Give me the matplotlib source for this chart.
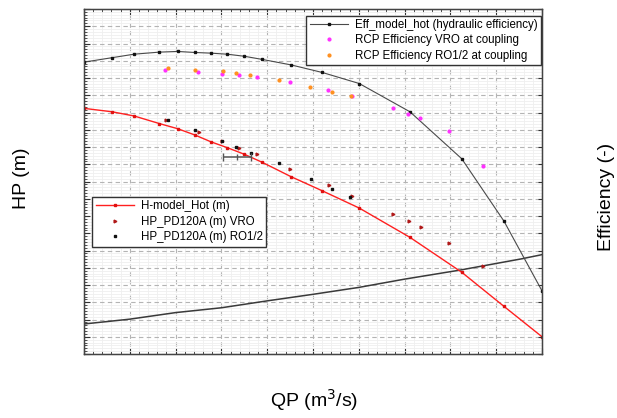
import numpy as np
import matplotlib
matplotlib.use('Agg')
import matplotlib.pyplot as plt
from matplotlib.ticker import MultipleLocator, NullFormatter

plt.rcParams['font.family'] = ['Liberation Sans', 'DejaVu Sans']

# ---------- data (arbitrary units, labels were hidden) ----------
# model curves share the same QP points
qp_model = [0.0, 0.618, 1.092, 1.644, 2.046, 2.417, 2.773, 3.129, 3.5, 3.886,
            4.52, 5.203, 6.01, 7.118, 8.247, 9.17, 10.0]
eff_model = [0.846, 0.859, 0.869, 0.875, 0.877, 0.874, 0.872, 0.869, 0.863, 0.854,
             0.838, 0.816, 0.784, 0.702, 0.566, 0.385, 0.183]
hp_model = [71.2, 70.2, 69.0, 66.8, 65.3, 63.5, 61.5, 59.8, 57.9, 55.6,
            51.4, 47.3, 42.3, 33.8, 23.7, 13.8, 5.0]

# efficiency measurements at coupling
qp_eff_vro = [1.775, 2.496, 3.007, 3.391, 3.771, 4.498, 5.338, 5.852, 6.74, 7.081,
              7.336, 7.969, 8.705]
eff_vro = [0.823, 0.818, 0.812, 0.809, 0.802, 0.788, 0.764, 0.747, 0.714, 0.697,
           0.685, 0.646, 0.546]
qp_eff_ro = [1.841, 2.417, 3.028, 3.319, 3.631, 4.258, 4.945, 5.415, 5.819]
eff_ro = [0.829, 0.824, 0.819, 0.815, 0.808, 0.795, 0.773, 0.759, 0.747]

# HP measurements
qp_hp_vro = [1.784, 2.511, 3.013, 3.391, 3.777, 4.487, 5.349, 5.858, 6.74, 7.096,
             7.352, 7.976, 8.705]
hp_vro = [67.7, 64.3, 61.7, 59.6, 57.9, 53.7, 49.0, 45.9, 40.6, 38.5, 36.7, 32.3, 25.6]
qp_hp_ro = [1.828, 2.424, 3.02, 3.319, 3.64, 4.258, 4.95, 5.421, 5.815]
hp_ro = [67.8, 64.8, 61.7, 60.1, 58.2, 55.3, 50.6, 47.7, 45.6]

# single point with horizontal error bar
qp_err = [3.341]
hp_err = [57.2]
qp_err_half = [0.306]

# unlabelled rising curve
qp_low = [0.0, 1.0, 2.0, 3.0, 4.0, 5.0, 6.0, 7.0, 8.2, 9.56, 10.0]
hp_low = [8.7, 10.1, 12.0, 13.4, 15.4, 17.3, 19.3, 21.7, 24.3, 27.6, 28.8]

# ---------- figure ----------
fig = plt.figure(figsize=(6.17, 4.18), dpi=100)
ax = fig.add_axes([84 / 617, 1 - 354 / 418, 458 / 617, 345 / 418])
ax2 = ax.twinx()

ax.set_xlim(0, 10)
ax.set_ylim(0, 100)
ax2.set_ylim(0, 1)

ax.xaxis.set_major_locator(MultipleLocator(1))
ax.xaxis.set_minor_locator(MultipleLocator(0.2))
ax.yaxis.set_major_locator(MultipleLocator(5))
ax.yaxis.set_minor_locator(MultipleLocator(5 / 6))
ax2.yaxis.set_major_locator(MultipleLocator(0.05))
ax2.yaxis.set_minor_locator(MultipleLocator(0.05))
for a in (ax, ax2):
    a.xaxis.set_major_formatter(NullFormatter())
    a.yaxis.set_major_formatter(NullFormatter())

ax.tick_params(which='both', direction='in', top=True, right=False, colors='#333333')
ax.tick_params(which='major', length=4, width=0.8)
ax.tick_params(which='minor', length=2.5, width=0.6)
ax2.tick_params(which='both', direction='in', length=3, width=0.8, colors='#333333')

ax.grid(which='major', linestyle=(0, (4, 3)), color='#b4b4b4', linewidth=0.8)
ax.grid(which='minor', linestyle='-', color='#efefef', linewidth=0.6)
ax.set_axisbelow(True)

for sp in ax2.spines.values():
    sp.set_color('#444444')
    sp.set_linewidth(1.0)

# HP side
ax.plot(qp_low, hp_low, color='#3a3a3a', lw=1.1)
l_hp, = ax.plot(qp_model, hp_model, color='#ff2020', lw=1.0, marker='s', ms=1.6,
                mfc='#e01010', mec='#e01010', label='H-model_Hot (m)')
l_vro, = ax.plot(qp_hp_vro, hp_vro, ls='none', marker='>', ms=2.0, color='#b01818',
                 label='HP_PD120A (m) VRO')
l_ro, = ax.plot(qp_hp_ro, hp_ro, ls='none', marker='s', ms=1.7, color='#111111',
                label='HP_PD120A (m) RO1/2')
ax.errorbar(qp_err, hp_err, xerr=qp_err_half, fmt='|', color='#555555', ms=5,
            capsize=3, elinewidth=1.1)

# efficiency side
l_eff, = ax2.plot(qp_model, eff_model, color='#4a4a4a', lw=0.8, marker='s', ms=1.6,
                  mfc='#111111', mec='#111111',
                  label='Eff_model_hot (hydraulic efficiency)')
l_ev, = ax2.plot(qp_eff_vro, eff_vro, ls='none', marker='o', ms=2.0, color='#ff30ff',
                 label='RCP Efficiency VRO at coupling')
l_eo, = ax2.plot(qp_eff_ro, eff_ro, ls='none', marker='o', ms=2.0, color='#ff9020',
                 label='RCP Efficiency RO1/2 at coupling')

leg1 = ax2.legend(handles=[l_eff, l_ev, l_eo], loc='upper right',
                  bbox_to_anchor=(0.997, 0.981), fontsize=8.3, fancybox=False,
                  framealpha=1, edgecolor='#333333', borderpad=0.3,
                  labelspacing=0.3, handlelength=3.3, handletextpad=0.6,
                  borderaxespad=0.0)
leg1.get_frame().set_linewidth(1.0)
leg2 = ax.legend(handles=[l_hp, l_vro, l_ro], loc='upper left',
                 bbox_to_anchor=(0.018, 0.455), fontsize=8.3, fancybox=False,
                 framealpha=1, edgecolor='#333333', borderpad=0.3,
                 labelspacing=0.3, handlelength=3.3, handletextpad=0.6,
                 borderaxespad=0.0)
leg2.get_frame().set_linewidth(1.0)

ax.set_xlabel('QP (m$^3$/s)', fontsize=14)
ax.xaxis.set_label_coords(0.502, -0.095)
ax.set_ylabel('HP (m)', fontsize=14)
ax.yaxis.set_label_coords(-0.118, 0.51)
ax2.set_ylabel('Efficiency (-)', fontsize=14)
ax2.yaxis.set_label_coords(1.122, 0.455)

fig.savefig('out.png', dpi=100)
